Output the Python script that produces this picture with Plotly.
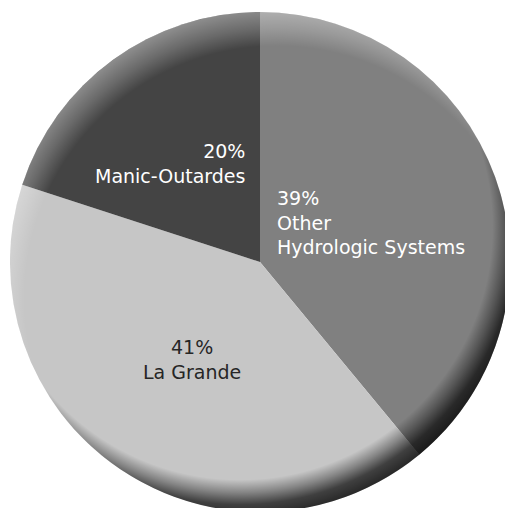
import base64
import math
import plotly.graph_objects as go

# Share of installed hydro capacity by hydrologic system
systems = ["Other\nHydrologic Systems", "La Grande", "Manic-Outardes"]
shares = [39, 41, 20]
slice_colors = ["#808080", "#c6c6c6", "#444444"]
text_colors = ["#ffffff", "#262626", "#ffffff"]

# Canvas and pie geometry (pixels)
W, H = 520, 524
CX, CY, R = 260, 262, 250
FONT = "DejaVu Sans"
FSIZE = 19

# Label block for each slice: (x, vertical centre y, alignment)
label_pos = [
    (275, 223, "left"),
    (192, 359.3, "center"),
    (247, 163, "right"),
]


def px_x(x):
    return x / W


def px_y(y):
    return 1 - y / H


fig = go.Figure(
    go.Pie(
        labels=[s.replace("\n", " ") for s in systems],
        values=shares,
        sort=False,
        direction="clockwise",
        rotation=0,
        marker=dict(colors=slice_colors, line=dict(width=0)),
        textinfo="none",
        hoverinfo="skip",
        showlegend=False,
        domain=dict(x=[px_x(CX - R), px_x(CX + R)], y=[px_y(CY + R), px_y(CY - R)]),
    )
)

# Slice labels: percentage on the first line, system name below
annotations = []
for name, val, col, (x, yc, align) in zip(systems, shares, text_colors, label_pos):
    lines = [f"{val}%"] + name.split("\n")
    annotations.append(
        dict(
            text="<br>".join(lines),
            x=px_x(x),
            y=px_y(yc),
            xref="paper",
            yref="paper",
            xanchor=align,
            yanchor="middle",
            align=align,
            showarrow=False,
            font=dict(family=FONT, size=FSIZE, color=col),
        )
    )


# Bevel shading: light rim towards the top-left, dark rim towards the bottom-right
def offset(angle_deg, k):
    a = math.radians(angle_deg)
    return math.sin(a) * k, -math.cos(a) * k


ks, kh = 40, 40
sdx, sdy = offset(150, ks)
hdx, hdy = offset(335, kh)
svg = f"""<svg xmlns="http://www.w3.org/2000/svg" width="{W}" height="{H}" viewBox="0 0 {W} {H}">
<defs>
<radialGradient id="sh" gradientUnits="userSpaceOnUse" cx="{CX - sdx:.2f}" cy="{CY - sdy:.2f}" r="{R + ks}">
<stop offset="0.87" stop-color="#000" stop-opacity="0"/>
<stop offset="0.914" stop-color="#000" stop-opacity="0.33"/>
<stop offset="0.956" stop-color="#000" stop-opacity="0.68"/>
<stop offset="1" stop-color="#000" stop-opacity="0.8"/>
</radialGradient>
<radialGradient id="hl" gradientUnits="userSpaceOnUse" cx="{CX - hdx:.2f}" cy="{CY - hdy:.2f}" r="{R + kh}">
<stop offset="0.87" stop-color="#fff" stop-opacity="0"/>
<stop offset="0.93" stop-color="#fff" stop-opacity="0.2"/>
<stop offset="1" stop-color="#fff" stop-opacity="0.4"/>
</radialGradient>
</defs>
<circle cx="{CX}" cy="{CY}" r="{R}" fill="url(#hl)"/>
<circle cx="{CX}" cy="{CY}" r="{R}" fill="url(#sh)"/>
</svg>"""
shade_src = "data:image/svg+xml;base64," + base64.b64encode(svg.encode()).decode()

fig.update_layout(
    width=W,
    height=H,
    margin=dict(l=0, r=0, t=0, b=0),
    paper_bgcolor="#ffffff",
    plot_bgcolor="#ffffff",
    annotations=annotations,
    images=[
        dict(
            source=shade_src,
            xref="paper",
            yref="paper",
            x=0,
            y=1,
            sizex=1,
            sizey=1,
            xanchor="left",
            yanchor="top",
            sizing="stretch",
            layer="above",
        )
    ],
)

fig.write_html(
    "out.html",
    config={"displayModeBar": False, "staticPlot": True},
    post_script=(
        "document.body.style.margin='0';"
        "document.body.style.overflow='hidden';"
        "document.documentElement.style.overflow='hidden';"
    ),
)
